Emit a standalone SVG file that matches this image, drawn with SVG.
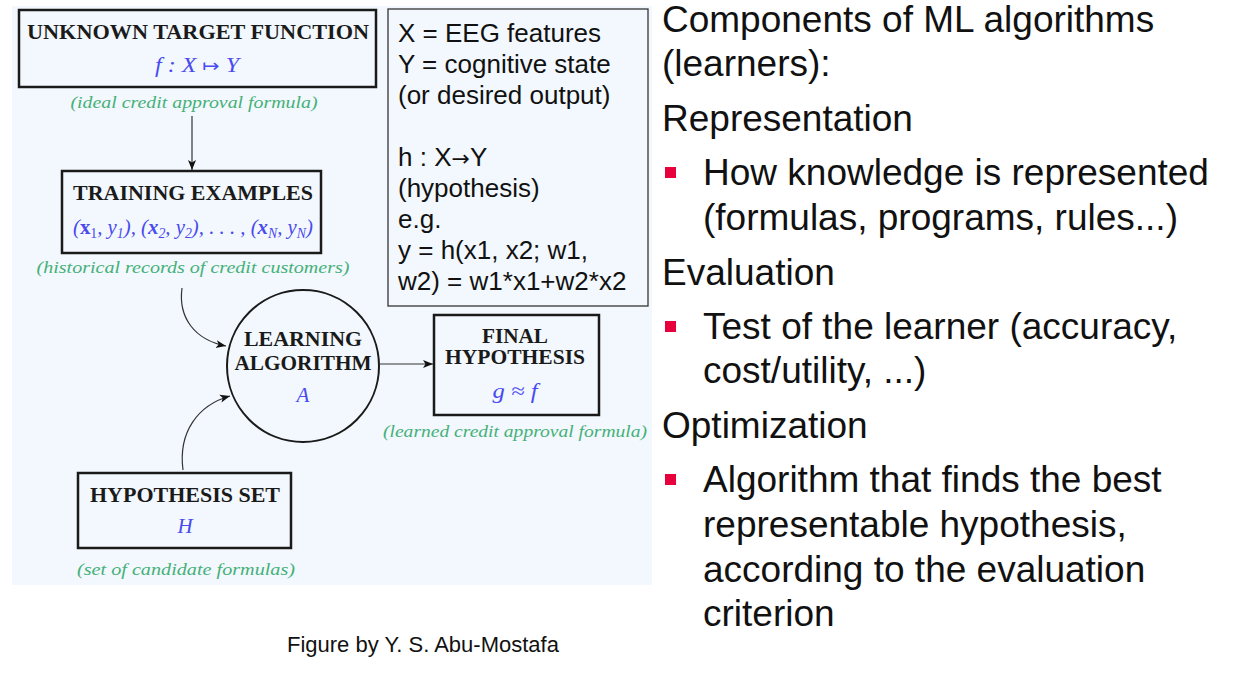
<svg xmlns="http://www.w3.org/2000/svg" width="1240" height="682" viewBox="0 0 1240 682">
<defs>
<marker id="arr" viewBox="0 0 10 10" refX="10" refY="5" markerWidth="10" markerHeight="10" markerUnits="userSpaceOnUse" orient="auto">
<path d="M0,1 L10,5 L0,9 L2.5,5 Z" fill="#111"/>
</marker>
</defs>
<style>
.lbl{font-family:"Liberation Serif","DejaVu Serif",serif;font-weight:bold;font-size:20px;fill:#1a1a1a;text-anchor:middle}
.math{font-family:"Liberation Serif","DejaVu Serif",serif;font-style:italic;font-size:21px;fill:#4a4af0;text-anchor:middle}
.note{font-family:"Liberation Serif","DejaVu Serif",serif;font-style:italic;font-size:17px;fill:#45b078;text-anchor:middle}
.box{fill:#f2f8fd;stroke:#1a1a1a;stroke-width:2.5}
.info{font-family:"Liberation Sans",Arial,sans-serif;font-size:26px;fill:#111}
.rt{font-family:"Liberation Sans",Arial,sans-serif;font-size:37px;fill:#111}
.bul{fill:#e6003c}
.conn{fill:none;stroke:#333;stroke-width:1.2}
</style>
<rect x="0" y="0" width="1240" height="682" fill="#ffffff"/>
<rect x="12" y="6" width="640" height="579" fill="#f2f8fd"/>

<g id="unknown-target">
<rect class="box" x="19" y="10" width="357" height="77" stroke-width="3"/>
<text class="lbl" x="198" y="39" textLength="342" lengthAdjust="spacingAndGlyphs">UNKNOWN TARGET FUNCTION</text>
<text class="math" x="197" y="72" textLength="84" lengthAdjust="spacingAndGlyphs">f : X <tspan font-style="normal" font-family="DejaVu Sans, sans-serif" font-size="18">↦</tspan> Y</text>
<text class="note" x="194" y="108" textLength="247" lengthAdjust="spacingAndGlyphs">(ideal credit approval formula)</text>
</g>

<g id="training-examples">
<rect class="box" x="62" y="171" width="259" height="82"/>
<text class="lbl" x="193" y="200" textLength="240" lengthAdjust="spacingAndGlyphs">TRAINING EXAMPLES</text>
<text class="math" x="193" y="234" font-style="normal" textLength="240" lengthAdjust="spacingAndGlyphs">(<tspan font-weight="bold" font-style="normal">x</tspan><tspan font-size="14" dy="4" font-style="normal">1</tspan><tspan dy="-4">, </tspan><tspan font-style="italic">y</tspan><tspan font-size="14" dy="4">1</tspan><tspan dy="-4">), (</tspan><tspan font-weight="bold">x</tspan><tspan font-size="14" dy="4">2</tspan><tspan dy="-4">, </tspan><tspan font-style="italic">y</tspan><tspan font-size="14" dy="4">2</tspan><tspan dy="-4">), . . . , (</tspan><tspan font-weight="bold">x</tspan><tspan font-size="14" dy="4" font-style="italic">N</tspan><tspan dy="-4">, </tspan><tspan font-style="italic">y</tspan><tspan font-size="14" dy="4" font-style="italic">N</tspan><tspan dy="-4">)</tspan></text>
<text class="note" x="193" y="273" textLength="313" lengthAdjust="spacingAndGlyphs">(historical records of credit customers)</text>
</g>

<g id="learning-algorithm">
<circle cx="303" cy="366" r="76" fill="#f2f8fd" stroke="#1a1a1a" stroke-width="2"/>
<text class="lbl" x="303" y="346" textLength="118" lengthAdjust="spacingAndGlyphs">LEARNING</text>
<text class="lbl" x="303" y="370" textLength="137" lengthAdjust="spacingAndGlyphs">ALGORITHM</text>
<text class="math" x="303" y="402">A</text>
</g>

<g id="final-hypothesis">
<rect class="box" x="434" y="315" width="165" height="100"/>
<text class="lbl" x="515" y="343" textLength="66" lengthAdjust="spacingAndGlyphs">FINAL</text>
<text class="lbl" x="515" y="364" textLength="140" lengthAdjust="spacingAndGlyphs">HYPOTHESIS</text>
<text class="math" x="515" y="398" textLength="45" lengthAdjust="spacingAndGlyphs">g ≈ f</text>
<text class="note" x="515" y="437" textLength="264" lengthAdjust="spacingAndGlyphs">(learned credit approval formula)</text>
</g>

<g id="hypothesis-set">
<rect class="box" x="78" y="473" width="213" height="75"/>
<text class="lbl" x="185" y="502" textLength="190" lengthAdjust="spacingAndGlyphs">HYPOTHESIS SET</text>
<text class="math" x="185" y="533">H</text>
<text class="note" x="186" y="575" textLength="218" lengthAdjust="spacingAndGlyphs">(set of candidate formulas)</text>
</g>

<g id="info-box">
<rect x="388" y="9" width="260" height="297" fill="#f2f8fd" stroke="#333" stroke-width="1.3"/>
<text class="info" x="398" y="42">X = EEG features</text>
<text class="info" x="398" y="73">Y = cognitive state</text>
<text class="info" x="398" y="104">(or desired output)</text>
<text class="info" x="398" y="166">h : X<tspan font-family="DejaVu Sans, sans-serif" font-size="22">→</tspan>Y</text>
<text class="info" x="398" y="197">(hypothesis)</text>
<text class="info" x="398" y="228">e.g.</text>
<text class="info" x="398" y="259">y = h(x1, x2; w1,</text>
<text class="info" x="398" y="290">w2) = w1*x1+w2*x2</text>
</g>

<g id="connectors">
<path class="conn" d="M192,116 L192,170" marker-end="url(#arr)"/>
<path class="conn" d="M182,288 C178,318 195,340 226,346" marker-end="url(#arr)"/>
<path class="conn" d="M183,470 C178,432 198,405 230,396" marker-end="url(#arr)"/>
<path class="conn" d="M379,364 L433,364" marker-end="url(#arr)"/>
</g>

<g id="components-text">
<text class="rt" x="662" y="32">Components of ML algorithms</text>
<text class="rt" x="662" y="76">(learners):</text>
<text class="rt" x="662" y="131">Representation</text>
<rect class="bul" x="665" y="167" width="11" height="11"/>
<text class="rt" x="703" y="185">How knowledge is represented</text>
<text class="rt" x="703" y="230">(formulas, programs, rules...)</text>
<text class="rt" x="662" y="285">Evaluation</text>
<rect class="bul" x="665" y="321" width="11" height="11"/>
<text class="rt" x="703" y="339">Test of the learner (accuracy,</text>
<text class="rt" x="703" y="383">cost/utility, ...)</text>
<text class="rt" x="662" y="438">Optimization</text>
<rect class="bul" x="665" y="474" width="11" height="11"/>
<text class="rt" x="703" y="492">Algorithm that finds the best</text>
<text class="rt" x="703" y="537">representable hypothesis,</text>
<text class="rt" x="703" y="582">according to the evaluation</text>
<text class="rt" x="703" y="626">criterion</text>
</g>

<text x="287" y="652" font-family="Liberation Sans, Arial, sans-serif" font-size="22" fill="#111">Figure by Y. S. Abu-Mostafa</text>
</svg>
